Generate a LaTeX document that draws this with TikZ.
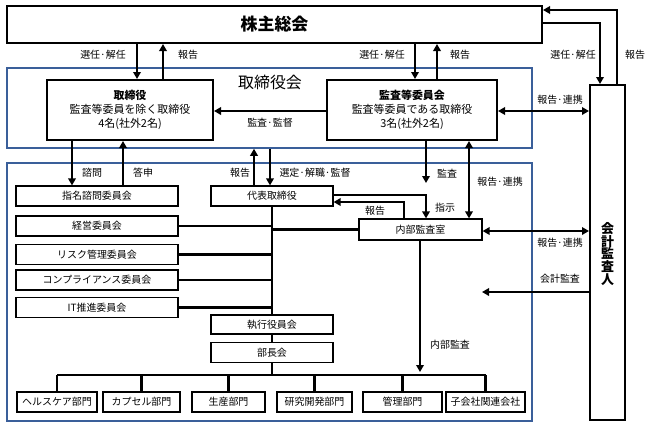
\documentclass[tikz,border=0pt]{standalone}
\usepackage{fontspec}
\setmainfont{Noto Sans CJK JP}
\usetikzlibrary{arrows.meta,calc}
\definecolor{frameblue}{HTML}{3A5F9A}
\begin{document}
\begin{tikzpicture}[x=1bp,y=-1bp,
  box/.style={draw, line width=1.2bp, inner sep=0pt, align=center, font=\fontsize{10}{12}\selectfont},
  mainbox/.style={draw, line width=2bp, inner sep=0pt, align=center},
  bluebox/.style={draw=frameblue, line width=1.5bp, inner sep=0pt},
  conn/.style={line width=2.2bp},
  arr/.style={conn, -{Triangle[length=7bp,width=7.5bp]}},
  biarr/.style={conn, {Triangle[length=7bp,width=7.5bp]}-{Triangle[length=7bp,width=7.5bp]}},
  lbl/.style={inner sep=0pt, font=\fontsize{10}{12}\selectfont},
  comm/.style={box, minimum width=162bp, minimum height=20bp},
  dept/.style={box, minimum height=20bp},
  mid/.style={box, minimum width=122bp}
]
\useasboundingbox (0,0) rectangle (648,427);
% frames
\node[bluebox, minimum width=525bp, minimum height=80bp] (bod) at (269.5,108) {};
\node[bluebox, minimum width=525bp, minimum height=258bp] (exe) at (269.5,292) {};
\node[inner sep=0pt, font=\fontsize{16}{18}\selectfont] (bodt) at (270,82) {取締役会};
% main boxes
\node[mainbox, minimum width=535bp, minimum height=37bp, font=\fontsize{17}{20}\selectfont\bfseries] (sh) at (274.5,24.5) {株主総会};
\node[mainbox, minimum width=166bp, minimum height=60bp, font=\fontsize{11}{14}\selectfont] (tor) at (130,110) {\textbf{取締役}\\監査等委員を除く取締役\\4名(社外2名)};
\node[mainbox, minimum width=170bp, minimum height=60bp, font=\fontsize{11}{14}\selectfont] (acm) at (412,110) {\textbf{監査等委員会}\\監査等委員である取締役\\3名(社外2名)};
\node[mainbox, minimum width=35bp, minimum height=335bp] (aud) at (607.5,252.5) {};
\node[inner sep=0pt, align=center, font=\fontsize{13}{13}\selectfont\bfseries] (audt) at (607.5,254) {会\\計\\監\\査\\人};
% lower boxes
\node[comm] (nom) at (97,196) {指名諮問委員会};
\node[mid, minimum height=20bp] (rep) at (272,196) {代表取締役};
\node[comm] (mgmt) at (97,226) {経営委員会};
\node[comm] (risk) at (97,254.5) {リスク管理委員会};
\node[comm] (comp) at (97,280) {コンプライアンス委員会};
\node[comm] (itc) at (97,307.5) {IT推進委員会};
\node[box, minimum width=123bp, minimum height=21bp] (ia) at (420.5,229.5) {内部監査室};
\node[mid, minimum height=19bp] (eo) at (272,324.5) {執行役員会};
\node[mid, minimum height=20bp] (bc) at (272,352.5) {部長会};
\node[dept, minimum width=80bp] (hc) at (57,402) {ヘルスケア部門};
\node[dept, minimum width=77bp] (cap) at (141.5,402) {カプセル部門};
\node[dept, minimum width=73bp] (prod) at (228.5,402) {生産部門};
\node[dept, minimum width=75bp] (rd) at (314.5,402) {研究開発部門};
\node[dept, minimum width=79bp] (adm) at (402.5,402) {管理部門};
\node[dept, minimum width=79bp] (sub) at (485.5,402) {子会社関連会社};
% coordinates
\coordinate (busL) at (57,375);
\coordinate (busR) at (485.5,375);
\coordinate (auditEnd) at (426,183);
\coordinate (aaEnd) at (482,292);
% top connectors
\draw[arr] (137,0 |- sh.south) -- (137,0 |- tor.north);
\draw[arr] (163,0 |- tor.north) -- (163,0 |- sh.south);
\draw[arr] (415,0 |- sh.south) -- (415,0 |- acm.north);
\draw[arr] (437,0 |- acm.north) -- (437,0 |- sh.south);
\draw[arr] (sh.east |- 0,23) -| (600,0 |- aud.north);
\draw[arr] (617,0 |- aud.north) |- (sh.east |- 0,10);
\draw[arr] (acm.west |- 0,111) -- (tor.east |- 0,111);
\draw[biarr] (acm.east |- 0,111) -- (aud.west |- 0,111);
% board to lower
\draw[arr] (72,0 |- tor.south) -- (72,0 |- nom.north);
\draw[arr] (123,0 |- nom.north) -- (123,0 |- tor.south);
\draw[arr] (254,0 |- rep.north) -- (254,0 |- bod.south);
\draw[arr] (270,0 |- bod.south) -- (270,0 |- rep.north);
\draw[arr] (426,0 |- acm.south) -- (auditEnd);
\draw[biarr] (469,0 |- acm.south) -- (469,0 |- ia.north);
\draw[arr] (rep.east |- 0,195) -| (426,0 |- ia.north);
\draw[arr] (404,0 |- ia.north) |- (rep.east |- 0,202);
\draw[biarr] (ia.east |- 0,231) -- (aud.west |- 0,231);
\draw[arr] (aud.west |- aaEnd) -- (aaEnd);
% trunk
\draw[conn] (rep.south) -- (eo.north);
\draw[conn] (eo.south) -- (bc.north);
\draw[conn] (bc.south) -- (272,375);
\draw[conn] (mgmt.east) -- (272,0 |- mgmt.east);
\draw[conn] (risk.east) -- (272,0 |- risk.east);
\draw[conn] (comp.east) -- (272,0 |- comp.east);
\draw[conn] (itc.east) -- (272,0 |- itc.east);
\draw[conn] (272,0 |- ia.west) -- (ia.west);
\draw[arr] (ia.south -| 420,0) -- (420,372);
\draw[conn] (busL) -- (busR);
\foreach \d in {hc,cap,prod,rd,adm,sub} {\draw[conn] (\d.north |- busL) -- (\d.north);}
% labels
\node[lbl] at (103,55) {選任·解任};
\node[lbl] at (188,55) {報告};
\node[lbl] at (382,55) {選任·解任};
\node[lbl] at (460,55) {報告};
\node[lbl] at (573,55) {選任·解任};
\node[lbl] at (635,55) {報告};
\node[lbl] at (560,100) {報告·連携};
\node[lbl] at (270,123) {監査·監督};
\node[lbl] at (92,173) {諮問};
\node[lbl] at (143,173) {答申};
\node[lbl] at (240,173) {報告};
\node[lbl] at (315,173) {選定·解職·監督};
\node[lbl] at (447,174) {監査};
\node[lbl] at (500,182) {報告·連携};
\node[lbl] at (375,211) {報告};
\node[lbl] at (445,208) {指示};
\node[lbl] at (560,243) {報告·連携};
\node[lbl] at (560,279) {会計監査};
\node[lbl] at (450,345) {内部監査};
\end{tikzpicture}
\end{document}
